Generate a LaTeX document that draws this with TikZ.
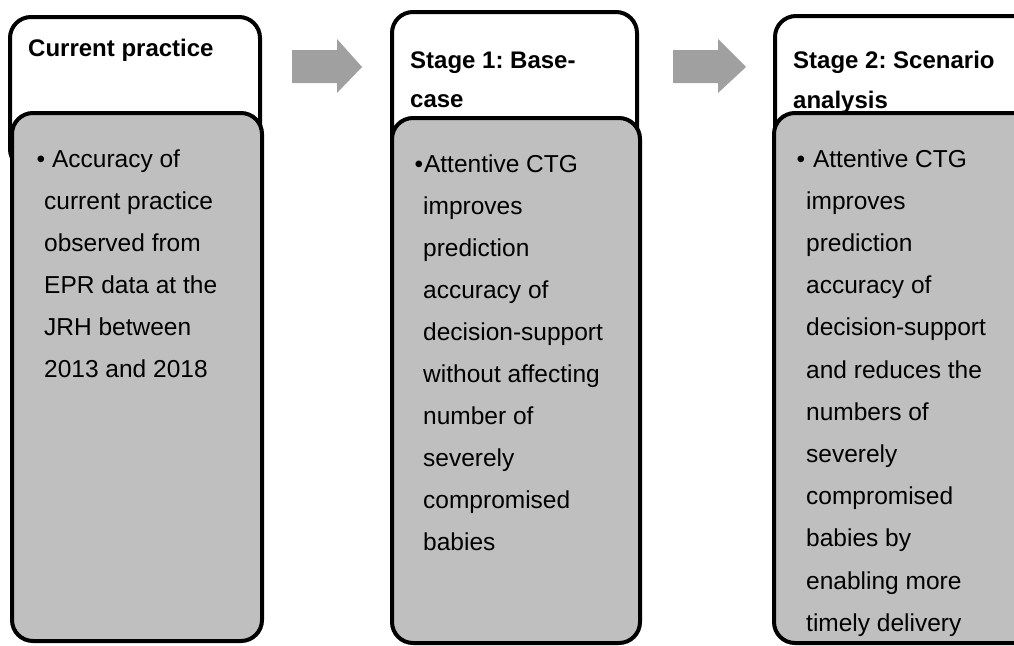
\documentclass[tikz,border=0pt]{standalone}
\usepackage{fontspec}
\setmainfont{Liberation Sans}
\frenchspacing
\begin{document}
\begin{tikzpicture}[x=1pt,y=-1pt,
  headbox/.style={draw=black,line width=4pt,fill=white,rounded corners=21pt},
  bodybox/.style={draw=black,line width=4pt,fill=panelgray,rounded corners=21pt},
  blockarrow/.style={fill=arrowgray,draw=none},
  titletext/.style={anchor=base west,inner sep=0pt,font=\fontsize{24}{35}\selectfont\bfseries},
  bodytext/.style={anchor=base west,inner sep=0pt}]
\definecolor{panelgray}{HTML}{BFBFBF}
\definecolor{arrowgray}{HTML}{A0A0A0}
\useasboundingbox (0,0) rectangle (1014,645);
\clip (0,0) rectangle (1014,645);

% column 1: current practice
\draw[headbox] (10,17) rectangle (260,170);
\draw[bodybox] (12,113) rectangle (262,641);
\node[titletext] (t1) at (28,56) {Current practice};
\node[bodytext] (b1) at (44,167) {\parbox[t]{230pt}{\fontsize{24.5}{42}\selectfont
  \hspace*{-7.7pt}•\hspace{7pt}Accuracy of\\
  current practice\\
  observed from\\
  EPR data at the\\
  JRH between\\
  2013 and 2018}};

% column 2: stage 1
\draw[headbox] (392,12) rectangle (637,170);
\draw[bodybox] (392,118) rectangle (640,643);
\node[titletext] (t2) at (410,68) {Stage 1: Base-};
\node[titletext] (t2b) at (410,107) {case};
\node[bodytext] (b2) at (423,172) {\parbox[t]{230pt}{\fontsize{24.5}{42}\selectfont
  \hspace*{-8.7pt}•\hspace{1pt}Attentive CTG\\
  improves\\
  prediction\\
  accuracy of\\
  decision-support\\
  without affecting\\
  number of\\
  severely\\
  compromised\\
  babies}};

% column 3: stage 2
\draw[headbox] (775,16) rectangle (1040,165);
\draw[bodybox] (774,113) rectangle (1040,643);
\node[titletext] (t3) at (793,68) {Stage 2: Scenario};
\node[titletext] (t3b) at (793,108) {analysis};
\node[bodytext] (b3) at (806,167) {\parbox[t]{230pt}{\fontsize{24.5}{42.2}\selectfont
  \hspace*{-9.7pt}•\hspace{8pt}Attentive CTG\\
  improves\\
  prediction\\
  accuracy of\\
  decision-support\\
  and reduces the\\
  numbers of\\
  severely\\
  compromised\\
  babies by\\
  enabling more\\
  timely delivery}};

% block arrows between the columns
\fill[blockarrow] (292,50) -- (337,50) -- (337,39) -- (362,67) -- (337,93) -- (337,83) -- (292,83) -- cycle;
\fill[blockarrow] (673,50) -- (718,50) -- (718,39) -- (746,67) -- (718,93) -- (718,83) -- (673,83) -- cycle;
\end{tikzpicture}
\end{document}
